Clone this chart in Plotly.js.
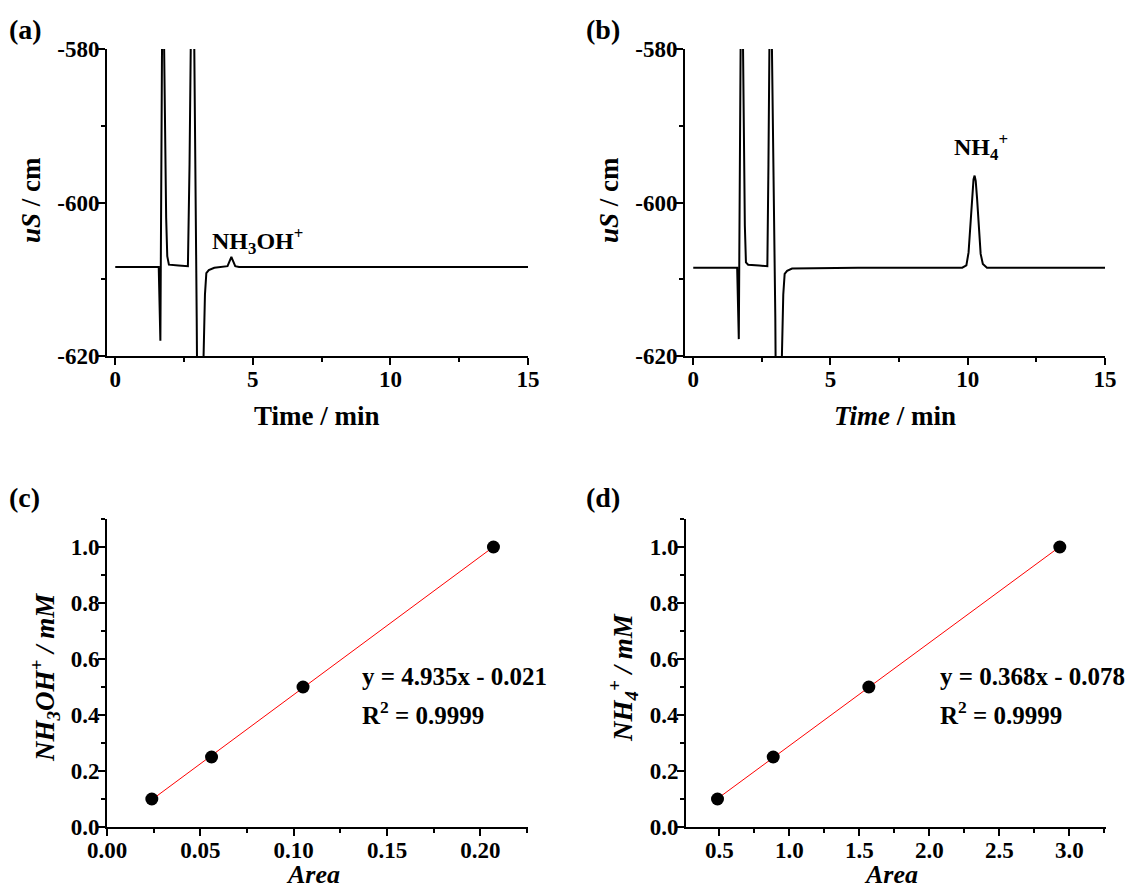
<!DOCTYPE html>
<html>
<head>
<meta charset="utf-8">
<script src="https://cdn.plot.ly/plotly-3.0.1.min.js"></script>
<style>html,body{margin:0;padding:0;background:#fff;}#chart{width:1129px;height:888px;}</style>
</head>
<body>
<div id="chart"></div>
<script>
// ---- Panel (a): chromatogram, NH3OH+ sample ----
const timeA = [0, 1.58, 1.64, 1.70, 1.73, 1.76, 1.80, 1.85, 1.89, 1.95, 2.30, 2.64, 2.70, 2.76, 2.80, 2.86, 2.92, 2.96, 2.99, 3.18, 3.21, 3.26, 3.31, 3.40, 3.60, 4.00, 4.08, 4.16, 4.22, 4.28, 4.36, 4.50, 7.0, 10.0, 12.5, 15.0];
const signalA = [-608.4, -608.4, -618.0, -575, -560, -575, -590, -602, -607, -608.1, -608.2, -608.3, -595, -575, -560, -575, -595, -615, -630, -630, -620, -612, -609.2, -608.8, -608.5, -608.4, -608.3, -607.6, -607.1, -607.6, -608.3, -608.4, -608.4, -608.4, -608.4, -608.4];

// ---- Panel (b): chromatogram, NH4+ sample ----
const timeB = [0, 1.60, 1.66, 1.72, 1.76, 1.80, 1.84, 1.88, 1.92, 2.00, 2.40, 2.70, 2.74, 2.78, 2.82, 2.86, 2.94, 2.99, 3.02, 3.20, 3.23, 3.28, 3.33, 3.42, 3.60, 6.0, 9.80, 9.95, 10.03, 10.10, 10.16, 10.21, 10.25, 10.29, 10.34, 10.40, 10.47, 10.55, 10.70, 12.5, 15.0];
const signalB = [-608.5, -608.5, -617.8, -575, -560, -575, -592, -603, -607.8, -608.1, -608.2, -608.3, -595, -575, -560, -578, -600, -615, -630, -630, -620, -612, -609.3, -608.9, -608.6, -608.5, -608.5, -608.2, -606.5, -603, -599, -597, -596.5, -597.2, -599.5, -603.5, -606.7, -608.0, -608.5, -608.5, -608.5];

// tick labels of the chromatogram signal axes
const signalTicks = [-620, -600, -580];
const signalTickLabels = ['-620', '-600', '-580'];

// ---- Panel (c): NH3OH+ calibration ----
const areaC = [0.024, 0.056, 0.105, 0.207];
const concC = [0.1, 0.25, 0.5, 1.0];
const slopeC = 4.935, interceptC = -0.021;
const eqC = ['y = 4.935x - 0.021', 'R<sup>2</sup> = 0.9999'];

// ---- Panel (d): NH4+ calibration ----
const areaD = [0.487, 0.885, 1.568, 2.932];
const concD = [0.1, 0.25, 0.5, 1.0];
const slopeD = 0.368, interceptD = -0.078;
const eqD = ['y = 0.368x - 0.078', 'R<sup>2</sup> = 0.9999'];

const panelLabels = ['(a)', '(b)', '(c)', '(d)'];

// ---------------------------------------------------------------
const W = 1129, H = 888;
const FONT = 'Liberation Serif, Times New Roman, serif';
const px = v => v / W;
const py = v => 1 - v / H;

function fitLine(xs, slope, icpt) {
  const x0 = Math.min(...xs), x1 = Math.max(...xs);
  return {x: [x0, x1], y: [slope * x0 + icpt, slope * x1 + icpt]};
}
const fC = fitLine(areaC, slopeC, interceptC);
const fD = fitLine(areaD, slopeD, interceptD);

const traces = [
  {x: timeA, y: signalA, xaxis: 'x', yaxis: 'y', mode: 'lines', line: {color: '#000', width: 2}, hoverinfo: 'skip'},
  {x: timeB, y: signalB, xaxis: 'x2', yaxis: 'y2', mode: 'lines', line: {color: '#000', width: 2}, hoverinfo: 'skip'},
  {x: fC.x, y: fC.y, xaxis: 'x3', yaxis: 'y3', mode: 'lines', line: {color: '#ff0000', width: 1}},
  {x: areaC, y: concC, xaxis: 'x3', yaxis: 'y3', mode: 'markers', marker: {color: '#000', size: 13}},
  {x: fD.x, y: fD.y, xaxis: 'x4', yaxis: 'y4', mode: 'lines', line: {color: '#ff0000', width: 1}},
  {x: areaD, y: concD, xaxis: 'x4', yaxis: 'y4', mode: 'markers', marker: {color: '#000', size: 13}}
];

function ax(extra) {
  return Object.assign({
    showline: true, linecolor: '#000', linewidth: 2, mirror: false,
    ticks: 'outside', ticklen: 7, tickwidth: 2, tickcolor: '#000',
    ticklabelstandoff: -6,
    showgrid: false, zeroline: false,
    tickfont: {family: FONT, size: 23, color: '#000', weight: 'bold'},
    fixedrange: true
  }, extra);
}
function minor(d, t0) {
  return {ticks: 'outside', ticklen: 4, tickwidth: 2, tickcolor: '#000', dtick: d, tick0: t0};
}

const layout = {
  width: W, height: H,
  margin: {l: 0, r: 0, t: 0, b: 0},
  paper_bgcolor: '#fff', plot_bgcolor: '#fff',
  showlegend: false,
  font: {family: FONT, color: '#000'},
  xaxis:  ax({domain: [px(107), px(528)], range: [-0.3, 15], tick0: 0, dtick: 5, anchor: 'y', minor: minor(2.5, 0)}),
  yaxis:  ax({domain: [py(356), py(49)], range: [-620, -580], tickmode: 'array', tickvals: signalTicks, ticktext: signalTickLabels,
              anchor: 'x', minor: {ticks: 'outside', ticklen: 4, tickwidth: 2, tickcolor: '#000', tickmode: 'linear', dtick: 10, tick0: -620}}),
  xaxis2: ax({domain: [px(685), px(1105)], range: [-0.3, 15], tick0: 0, dtick: 5, anchor: 'y2', minor: minor(2.5, 0)}),
  yaxis2: ax({domain: [py(356), py(49)], range: [-620, -580], tickmode: 'array', tickvals: signalTicks, ticktext: signalTickLabels,
              anchor: 'x2', minor: {ticks: 'outside', ticklen: 4, tickwidth: 2, tickcolor: '#000', tickmode: 'linear', dtick: 10, tick0: -620}}),
  xaxis3: ax({domain: [px(107), px(528)], range: [0, 0.2255], tick0: 0, dtick: 0.05, tickformat: '.2f', anchor: 'y3', minor: minor(0.025, 0)}),
  yaxis3: ax({domain: [py(827), py(519)], range: [0, 1.1], tick0: 0, dtick: 0.2, tickformat: '.1f', anchor: 'x3', minor: minor(0.1, 0)}),
  xaxis4: ax({domain: [px(686), px(1106)], range: [0.262, 3.262], tick0: 0.5, dtick: 0.5, tickformat: '.1f', anchor: 'y4', minor: minor(0.25, 0.5)}),
  yaxis4: ax({domain: [py(827), py(519)], range: [0, 1.1], tick0: 0, dtick: 0.2, tickformat: '.1f', anchor: 'x4', minor: minor(0.1, 0)}),
  annotations: []
};

function note(text, x, y, font, opts) {
  layout.annotations.push(Object.assign({
    text: text, x: px(x), y: py(y), xref: 'paper', yref: 'paper',
    showarrow: false, xanchor: 'center', yanchor: 'middle',
    font: font
  }, opts || {}));
}
const LF = {family: FONT, size: 28, color: '#000', weight: 'bold'};
note(panelLabels[0], 7, 30, LF, {xanchor: 'left'});
note(panelLabels[1], 584, 30, LF, {xanchor: 'left'});
note(panelLabels[2], 7, 497, LF, {xanchor: 'left'});
note(panelLabels[3], 584, 497, LF, {xanchor: 'left'});
// axis titles
const TF = {family: FONT, size: 27, color: '#000', weight: 'bold'};
const AF = {family: FONT, size: 26, color: '#000', weight: 'bold'};
note('<i>uS</i> / cm', 31, 200, TF, {textangle: -90});
note('<i>uS</i> / cm', 609, 200, TF, {textangle: -90});
note('Time / min', 317, 416, TF);
note('<i>Time</i> / min', 895, 416, TF);
note('<i>NH<sub>3</sub>OH<sup>+</sup> / mM</i>', 45, 678, TF, {textangle: -90});
note('<i>NH<sub>4</sub><sup>+</sup> / mM</i>', 623, 678, TF, {textangle: -90});
note('<i>Area</i>', 313, 874, AF);
note('<i>Area</i>', 891, 874, AF);
// peak labels
const PF = {family: FONT, size: 24, color: '#000', weight: 'bold'};
note('NH<sub>3</sub>OH<sup>+</sup>', 257, 241, PF);
note('NH<sub>4</sub><sup>+</sup>', 981, 147, PF);
// equations
const EF = {family: FONT, size: 25, color: '#000', weight: 'bold'};
note(eqC[0], 360, 676, EF, {xanchor: 'left'});
note(eqC[1], 360, 713, EF, {xanchor: 'left'});
note(eqD[0], 938, 676, EF, {xanchor: 'left'});
note(eqD[1], 938, 713, EF, {xanchor: 'left'});

Plotly.newPlot('chart', traces, layout, {displayModeBar: false, staticPlot: true});
</script>
</body>
</html>
